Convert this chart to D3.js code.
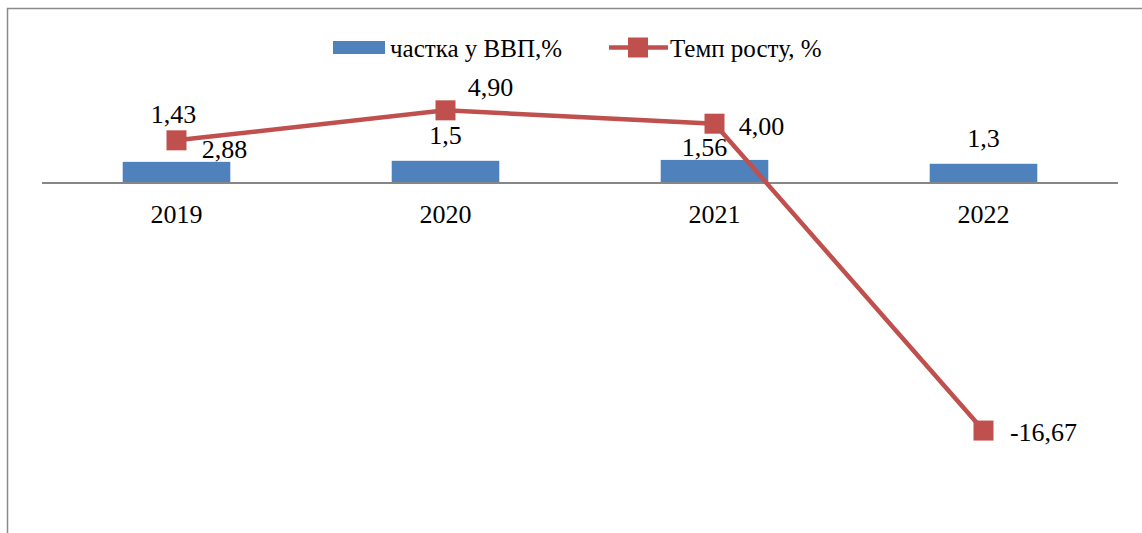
<!DOCTYPE html>
<html>
<head>
<meta charset="utf-8">
<script src="https://cdn.jsdelivr.net/npm/d3@7"></script>
</head>
<body style="margin:0">
<svg id="chart" width="1142" height="533"></svg>
<script>
// Categories and series
const years = ["2019", "2020", "2021", "2022"];
const gdpShare = [1.43, 1.5, 1.56, 1.3];          // частка у ВВП, %
const growthRate = [2.88, 4.90, 4.00, -16.67];    // Темп росту, %
const seriesNames = ["частка у ВВП,%", "Темп росту, %"];
const yDomain = [-20, 6];

// Label offsets (pixels) from each mark's anchor
const barLabelOffset = [[-3, -39], [0, -17], [-10, -4], [0, -17]];
const lineLabelOffset = [[48, 18], [45, -14], [47, 11], [60, 10]];
const barFmtDigits = [2, 1, 2, 1];

const FONT = '"Liberation Serif", "Times New Roman", Tinos, serif';
const fmt = (v, d) => v.toFixed(d).replace(".", ",");

// Serif face applied with priority over any inherited font rules
const serif = (sel, size) => sel
  .attr("font-family", FONT)
  .attr("font-size", size)
  .style("font-family", FONT, "important")
  .style("font-size", size + "px", "important");

const svg = d3.select("#chart");

// Outer chart frame
svg.append("rect")
  .attr("x", 7.5).attr("y", 8.5)
  .attr("width", 1200).attr("height", 600)
  .attr("fill", "none")
  .attr("stroke", "#8a8a8a")
  .attr("stroke-width", 1.5);

const x = d3.scaleBand()
  .domain(years)
  .range([42, 1118])
  .paddingInner(0.6)
  .paddingOuter(0.3);

const y = d3.scaleLinear().domain(yDomain).range([480, 94]);
const cx = d => x(d) + x.bandwidth() / 2;

// Bars
svg.append("g").selectAll("rect")
  .data(years)
  .join("rect")
  .attr("x", d => x(d))
  .attr("width", x.bandwidth())
  .attr("y", (d, i) => y(Math.max(0, gdpShare[i])))
  .attr("height", (d, i) => Math.abs(y(gdpShare[i]) - y(0)))
  .attr("fill", "#4f81bd");

// Zero line
svg.append("line")
  .attr("x1", 42).attr("x2", 1118)
  .attr("y1", y(0)).attr("y2", y(0))
  .attr("stroke", "#868686").attr("stroke-width", 2);

// Category labels below the zero line
svg.selectAll("text.cat")
  .data(x.domain())
  .join("text")
  .attr("class", "cat")
  .call(serif, 26)
  .attr("fill", "#000")
  .attr("x", d => cx(d))
  .attr("y", y(0) + 40)
  .attr("text-anchor", "middle")
  .text(d => d);

// Line series
const line = d3.line()
  .x((d, i) => cx(years[i]))
  .y(d => y(d));
svg.append("path")
  .datum(growthRate)
  .attr("d", line)
  .attr("fill", "none")
  .attr("stroke", "#c0504d")
  .attr("stroke-width", 4.5);

const mk = 20;
svg.append("g").selectAll("rect")
  .data(growthRate)
  .join("rect")
  .attr("x", (d, i) => cx(years[i]) - mk / 2)
  .attr("y", d => y(d) - mk / 2)
  .attr("width", mk).attr("height", mk)
  .attr("fill", "#c0504d");

// Data labels
svg.selectAll("text.bar-label")
  .data(gdpShare)
  .join("text")
  .attr("class", "bar-label")
  .call(serif, 26)
  .attr("x", (d, i) => cx(years[i]) + barLabelOffset[i][0])
  .attr("y", (d, i) => y(d) + barLabelOffset[i][1])
  .attr("text-anchor", "middle")
  .text((d, i) => fmt(d, barFmtDigits[i]));

svg.selectAll("text.line-label")
  .data(growthRate)
  .join("text")
  .attr("class", "line-label")
  .call(serif, 26)
  .attr("x", (d, i) => cx(years[i]) + lineLabelOffset[i][0])
  .attr("y", (d, i) => y(d) + lineLabelOffset[i][1])
  .attr("text-anchor", "middle")
  .text(d => fmt(d, 2));

// Legend
svg.append("rect")
  .attr("x", 333).attr("y", 41).attr("width", 52).attr("height", 13)
  .attr("fill", "#4f81bd");
svg.append("text")
  .call(serif, 25)
  .attr("x", 390).attr("y", 57)
  .text(seriesNames[0]);
svg.append("line")
  .attr("x1", 609).attr("x2", 668).attr("y1", 47.5).attr("y2", 47.5)
  .attr("stroke", "#c0504d").attr("stroke-width", 4.5);
svg.append("rect")
  .attr("x", 638 - 10).attr("y", 47.5 - 10).attr("width", 20).attr("height", 20)
  .attr("fill", "#c0504d");
svg.append("text")
  .call(serif, 25)
  .attr("x", 670).attr("y", 57)
  .text(seriesNames[1]);
</script>
</body>
</html>
